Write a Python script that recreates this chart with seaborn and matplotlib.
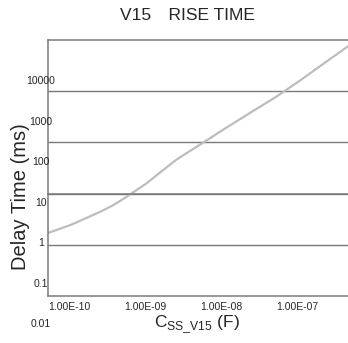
import numpy as np
import matplotlib
matplotlib.use("Agg")
import matplotlib.pyplot as plt
import seaborn as sns
from matplotlib.ticker import NullLocator

# data
cap_f = [1e-10, 2e-10, 3e-10, 5e-10, 7e-10, 1e-9, 2e-9, 3e-9, 5e-9,
         1e-8, 2e-8, 5e-8, 1e-7, 2e-7, 5e-7, 1e-6]
delay_ms = [1.7, 2.45, 3.2, 4.5, 5.8, 8.0, 16, 26, 47,
            90, 175, 410, 770, 1550, 4100, 8500]

x_ticks = [1e-10, 1e-9, 1e-8, 1e-7]
x_labels = ["1.00E-10", "1.00E-09", "1.00E-08", "1.00E-07"]
grid_vals = [1, 10, 100, 1000]
y_label_vals = [10000, 1000, 100, 10, 1, 0.1, 0.01]
y_label_txt = ["10000", "1000", "100", "10", "1", "0.1", "0.01"]

W, H = 348, 343
GRAY = "#7a7a7a"

sns.set_style("white")
plt.rcParams["font.family"] = ["Liberation Sans", "Noto Sans CJK JP", "DejaVu Sans"]


def fy(py):
    return 1 - py / H


fig = plt.figure(figsize=(W / 100, H / 100), dpi=100)

# main plot area
ax = fig.add_axes([48 / W, fy(296), 300 / W, 256 / H])
ax.set_xscale("log")
ax.set_yscale("log")
sns.lineplot(x=cap_f, y=delay_ms, ax=ax, color="#bdbdbd", linewidth=1.6)
ax.set_xlim(1e-10, 10 ** -6.05)
ax.set_ylim(0.1, 10000)

ax.set_yticks(grid_vals)
ax.yaxis.set_minor_locator(NullLocator())
ax.yaxis.grid(True, color=GRAY, linewidth=1.0)
ax.tick_params(axis="y", length=0, labelleft=False)

# horizontal axis line crosses at 10 ms, ticks pointing up
ax.spines["bottom"].set_position(("data", 10))
ax.set_xticks(x_ticks)
ax.xaxis.set_minor_locator(NullLocator())
ax.tick_params(axis="x", direction="in", length=4, width=1, color=GRAY,
               labelbottom=False)
for side in ["left", "top", "bottom"]:
    ax.spines[side].set_color(GRAY)
    ax.spines[side].set_linewidth(1.1)
ax.spines["right"].set_visible(False)

# x labels at the bottom frame
secax = ax.secondary_xaxis(0)
secax.set_xticks(x_ticks, labels=x_labels)
secax.xaxis.set_minor_locator(NullLocator())
secax.tick_params(axis="x", which="both", length=0, pad=4.3, labelsize=7.5)
secax.spines["bottom"].set_color(GRAY)
secax.spines["bottom"].set_linewidth(1.1)
for lab in secax.get_xticklabels():
    lab.set_horizontalalignment("left")

# y value labels (offset scale, as in the original sheet)
ax2 = fig.add_axes([48 / W, fy(330), 0.001, 290 / H])
ax2.set_yscale("log")
ax2.set_ylim(10 ** -2.17, 10 ** 4.99)
ax2.patch.set_visible(False)
for s in ax2.spines.values():
    s.set_visible(False)
ax2.set_xticks([])
ax2.set_yticks(y_label_vals, labels=y_label_txt)
ax2.yaxis.set_minor_locator(NullLocator())
ax2.tick_params(axis="y", length=0, pad=5, labelsize=7.5)
for lab in ax2.get_yticklabels():
    lab.set_horizontalalignment("center")

fig.text(187 / W, fy(15), "V15\u3000RISE TIME", ha="center", va="center",
         fontsize=12.5)
fig.text(21 / W, fy(197), "Delay Time (ms)", rotation=90, ha="center",
         va="center", fontsize=14.5)
fig.text(197 / W, fy(325), r"C$_{\mathregular{SS\_V15}}$ (F)", ha="center",
         va="center", fontsize=12.5)

fig.savefig("out.png", dpi=100)
